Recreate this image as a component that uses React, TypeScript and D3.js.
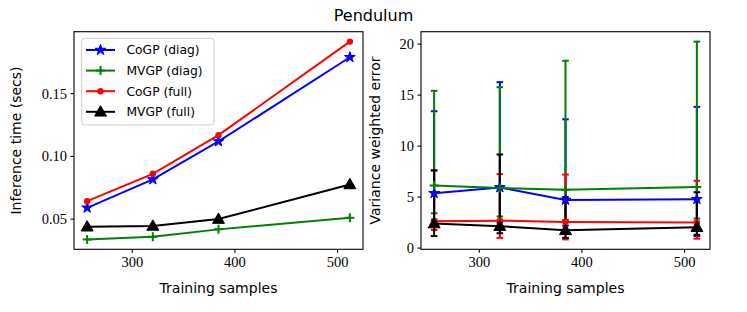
import * as d3 from 'd3'

const samples = [256, 320, 384, 512]
const seriesNames = ['CoGP (diag)', 'MVGP (diag)', 'CoGP (full)', 'MVGP (full)']
const seriesColors = ['#0000ff', '#008000', '#ff0000', '#000000']
const seriesMarkers = ['star', 'plus', 'circle', 'triangle']

// inference time (secs)
const timeCogpDiag = [0.059, 0.0816, 0.1119, 0.179]
const timeMvgpDiag = [0.0338, 0.036, 0.0418, 0.051]
const timeCogpFull = [0.0643, 0.0861, 0.1169, 0.1915]
const timeMvgpFull = [0.0439, 0.0445, 0.05, 0.0776]

// variance weighted error: mean, lower and upper bar ends
const errCogpDiag = [5.38, 5.95, 4.72, 4.79]
const errMvgpDiag = [6.13, 5.9, 5.71, 6.0]
const errCogpFull = [2.63, 2.69, 2.56, 2.52]
const errMvgpFull = [2.4, 2.15, 1.74, 2.05]

const lowCogpDiag = [2.8, 2.5, 2.2, 1.18]
const lowMvgpDiag = [3.41, 3.1, 2.75, 2.9]
const lowCogpFull = [1.77, 1.0, 0.85, 0.92]
const lowMvgpFull = [1.18, 1.45, 1.0, 1.3]

const highCogpDiag = [13.42, 16.27, 12.63, 13.85]
const highMvgpDiag = [15.42, 15.78, 18.37, 20.25]
const highCogpFull = [7.58, 7.25, 7.21, 6.6]
const highMvgpFull = [7.64, 9.18, 5.0, 5.48]

const xTicks = [300, 400, 500]
const timeTicks = [0.05, 0.1, 0.15]
const errTicks = [0, 5, 10, 15, 20]

const timeSeries = [timeCogpDiag, timeMvgpDiag, timeCogpFull, timeMvgpFull]
const errSeries = [errCogpDiag, errMvgpDiag, errCogpFull, errMvgpFull]
const lowSeries = [lowCogpDiag, lowMvgpDiag, lowCogpFull, lowMvgpFull]
const highSeries = [highCogpDiag, highMvgpDiag, highCogpFull, highMvgpFull]

const W = 747
const H = 312
const top = 31.7
const bottom = 249.3
const leftBox = [74, 363]
const rightBox = [421, 710]

const serif = 'Liberation Serif, Tinos, Times New Roman, Times, DejaVu Serif, Noto Serif, FreeSerif, serif'
const sans = 'DejaVu Sans, sans-serif'

// matplotlib style 5% margins
function padded(lo: number, hi: number): [number, number] {
  const m = (hi - lo) * 0.05
  return [lo - m, hi + m]
}

const xDom = padded(d3.min(samples)!, d3.max(samples)!)
const timeDom = padded(d3.min(timeSeries.flat())!, d3.max(timeSeries.flat())!)
const errDom = padded(
  d3.min([...lowSeries.flat(), ...errSeries.flat()])!,
  d3.max([...highSeries.flat(), ...errSeries.flat()])!
)

function Marker({ kind, x, y, color }: { kind: string; x: number; y: number; color: string }) {
  if (kind === 'star') {
    const p = d3.symbol(d3.symbolStar, 36)()
    return <path d={p!} transform={`translate(${x},${y})`} fill={color} stroke={color} strokeWidth={1} />
  }
  if (kind === 'plus') {
    return (
      <path d={`M${x - 4.5},${y}H${x + 4.5}M${x},${y - 4.5}V${y + 4.5}`} stroke={color} strokeWidth={2} fill="none" />
    )
  }
  if (kind === 'circle') {
    return <circle cx={x} cy={y} r={3.2} fill={color} />
  }
  const p = d3.symbol(d3.symbolTriangle, 62)()
  return <path d={p!} transform={`translate(${x},${y + 0.8})`} fill={color} stroke={color} strokeWidth={1} />
}

function Frame({ box, y, ticks, fmt, label, labelGap }: any) {
  const x = d3.scaleLinear().domain(xDom).range(box)
  return (
    <g>
      <rect x={box[0]} y={top} width={box[1] - box[0]} height={bottom - top} fill="none" stroke="#000" strokeWidth={1.1} />
      {xTicks.map(t => (
        <g key={t}>
          <line x1={x(t)} x2={x(t)} y1={bottom} y2={bottom + 3.5} stroke="#000" strokeWidth={1.1} />
          <text x={x(t)} y={bottom + 18} textAnchor="middle" fontFamily={serif} fontSize={14.5}>
            {t}
          </text>
        </g>
      ))}
      {ticks.map((t: number) => (
        <g key={t}>
          <line x1={box[0] - 3.5} x2={box[0]} y1={y(t)} y2={y(t)} stroke="#000" strokeWidth={1.1} />
          <text x={box[0] - 7} y={y(t)} dy="0.35em" textAnchor="end" fontFamily={serif} fontSize={14.5}>
            {fmt(t)}
          </text>
        </g>
      ))}
      <text x={(box[0] + box[1]) / 2} y={293} textAnchor="middle" fontFamily={sans} fontSize={14}>
        Training samples
      </text>
      <text
        transform={`translate(${box[0] - labelGap},${(top + bottom) / 2}) rotate(-90)`}
        textAnchor="middle"
        fontFamily={sans}
        fontSize={14}
      >
        {label}
      </text>
    </g>
  )
}

function TimePanel() {
  const x = d3.scaleLinear().domain(xDom).range(leftBox)
  const y = d3.scaleLinear().domain(timeDom).range([bottom, top])
  const line = d3.line<number>().x((_, i) => x(samples[i])).y(d => y(d))
  return (
    <g>
      <Frame box={leftBox} y={y} ticks={timeTicks} fmt={d3.format('.2f')} label="Inference time (secs)" labelGap={53} />
      {timeSeries.map((s, k) => (
        <g key={k}>
          <path d={line(s)!} fill="none" stroke={seriesColors[k]} strokeWidth={2} />
          {s.map((v, i) => (
            <Marker key={i} kind={seriesMarkers[k]} x={x(samples[i])} y={y(v)} color={seriesColors[k]} />
          ))}
        </g>
      ))}
      <g>
        <rect x={81.7} y={38.3} width={132.3} height={86.7} rx={3} fill="#fff" fillOpacity={0.8} stroke="#cccccc" strokeWidth={1} />
        {seriesNames.map((n, k) => {
          const ry = 50 + k * 20.6
          return (
            <g key={n}>
              <line x1={86} x2={115} y1={ry} y2={ry} stroke={seriesColors[k]} strokeWidth={2} />
              <Marker kind={seriesMarkers[k]} x={100.5} y={ry} color={seriesColors[k]} />
              <text x={126.5} y={ry} dy="0.36em" fontFamily={sans} fontSize={12.3}>
                {n}
              </text>
            </g>
          )
        })}
      </g>
    </g>
  )
}

function ErrorPanel() {
  const x = d3.scaleLinear().domain(xDom).range(rightBox)
  const y = d3.scaleLinear().domain(errDom).range([bottom, top])
  const line = d3.line<number>().x((_, i) => x(samples[i])).y(d => y(d))
  return (
    <g>
      <Frame box={rightBox} y={y} ticks={errTicks} fmt={d3.format('d')} label="Variance weighted error" labelGap={41} />
      {errSeries.map((s, k) => (
        <g key={'bar' + k}>
          {s.map((_, i) => {
            const cx = x(samples[i])
            const lo = y(lowSeries[k][i])
            const hi = y(highSeries[k][i])
            return (
              <g key={i} stroke={seriesColors[k]} strokeWidth={2}>
                <line x1={cx} x2={cx} y1={lo} y2={hi} />
                <line x1={cx - 3.3} x2={cx + 3.3} y1={lo} y2={lo} />
                <line x1={cx - 3.3} x2={cx + 3.3} y1={hi} y2={hi} />
              </g>
            )
          })}
        </g>
      ))}
      {errSeries.map((s, k) => (
        <g key={'line' + k}>
          <path d={line(s)!} fill="none" stroke={seriesColors[k]} strokeWidth={2} />
          {s.map((v, i) => (
            <Marker key={i} kind={seriesMarkers[k]} x={x(samples[i])} y={y(v)} color={seriesColors[k]} />
          ))}
        </g>
      ))}
    </g>
  )
}

export default function App() {
  return (
    <svg
      width={W}
      height={H}
      viewBox={`0 0 ${W} ${H}`}
      style={{ position: 'absolute', left: 0, top: 0, background: '#fff' }}
    >
      <rect width={W} height={H} fill="#fff" />
      <text x={373.5} y={20.5} textAnchor="middle" fontFamily={sans} fontSize={16}>
        Pendulum
      </text>
      <TimePanel />
      <ErrorPanel />
    </svg>
  )
}
